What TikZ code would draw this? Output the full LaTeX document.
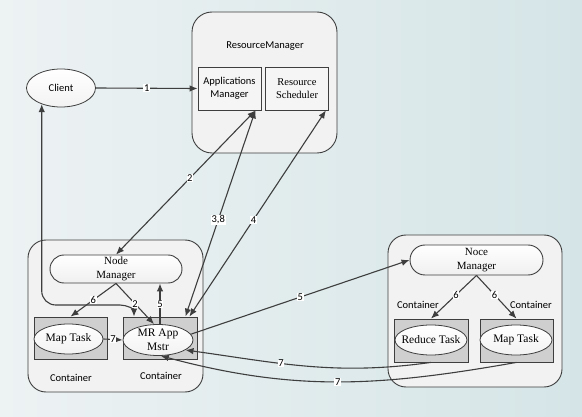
\documentclass[tikz,border=0pt]{standalone}
\usepackage{fontspec}
\setmainfont{Liberation Serif}
\newfontfamily\sansfnt{Carlito}
\usepackage{tikz}
\usetikzlibrary{arrows.meta,shapes.geometric,calc}
\definecolor{lnclr}{RGB}{62,62,62}
\definecolor{bgleft}{RGB}{237,242,243}
\definecolor{bgright}{RGB}{213,229,231}
\definecolor{boxgray}{RGB}{207,207,207}

\begin{document}
\begin{tikzpicture}[x=1pt,y=1pt,
  every node/.style={font=\fontsize{10.5}{13.5}\selectfont,align=center},
  rbox/.style={draw=lnclr,line width=0.9pt,rounded corners=20pt,fill=white!95!black},
  nmbox/.style={draw=lnclr,line width=0.9pt,rounded corners=14pt,top color=white,bottom color=gray!12},
  rmpart/.style={draw=lnclr,line width=0.8pt,fill=white!96!black,minimum width=63pt,minimum height=43pt,inner sep=0pt},
  gbox/.style={draw=lnclr,line width=0.8pt,fill=boxgray,minimum width=73pt,minimum height=42pt,inner sep=0pt},
  task/.style={ellipse,draw=lnclr,line width=0.8pt,top color=white,bottom color=gray!10,minimum width=70pt,minimum height=31pt,inner xsep=-6pt,inner ysep=-3pt,font=\fontsize{11.5}{14.5}\selectfont},
  sans/.style={font=\sansfnt\fontsize{10.5}{13.5}\selectfont},
  arr/.style={draw=lnclr,line width=1.1pt,-{Latex[length=8pt,width=6.5pt]}},
  dbl/.style={draw=lnclr,line width=1.1pt,{Latex[length=8pt,width=6.5pt]}-{Latex[length=8pt,width=6.5pt]}},
  lbl/.style={fill=white,inner sep=0.6pt,font=\sansfnt\fontsize{10.5}{10.5}\selectfont}]
\useasboundingbox (0,0) rectangle (582,-417);
\shade[left color=bgleft,right color=bgright] (0,0) rectangle (582,-417);

% ResourceManager
\node[rbox,minimum width=145pt,minimum height=141pt] (rm) at (264.5,-82.5) {};
\node[sans] (rmtitle) at (265,-46) {ResourceManager};
\node[rmpart,sans] (am) at (229.5,-88.5) {Applications\\Manager};
\node[rmpart] (rs) at (297,-88.5) {Resource\\Scheduler};

\node[ellipse,draw=lnclr,line width=0.8pt,top color=white,bottom color=gray!10,minimum width=69pt,minimum height=38pt,sans] (client) at (61,-88) {Client};

% left node
\node[rbox,minimum width=175pt,minimum height=152pt,rounded corners=18pt] (nodel) at (115.5,-316) {};
\node[nmbox,minimum width=132pt,minimum height=28pt,inner sep=0pt,font=\fontsize{11}{13.5}\selectfont] (nml) at (116,-269) {Node\\Manager};
\node[gbox] (mtlbox) at (70.5,-338) {};
\node[task,minimum width=69pt,minimum height=30pt] (mtl) at (68.5,-339) {Map Task};
\node[gbox,minimum width=74pt] (mrbox) at (160,-338) {};
\node[task] (mr) at (158,-340) {MR App\\Mstr};
\node[sans] (cl1) at (71,-378) {Container};
\node[sans] (cl2) at (161,-376) {Container};

% right node
\node[rbox,minimum width=174pt,minimum height=152pt,rounded corners=18pt] (noder) at (475,-311) {};
\node[nmbox,minimum width=133pt,minimum height=30pt,inner sep=0pt,rounded corners=15pt,font=\fontsize{11}{14}\selectfont] (nmr) at (476.5,-260) {Noce\\Manager};
\node[gbox,minimum width=74pt,minimum height=43pt] (rtbox) at (431,-340.5) {};
\node[task,minimum width=72pt,minimum height=30pt] (rt) at (431,-340) {Reduce Task};
\node[gbox,minimum height=43pt] (mtrbox) at (516.5,-340.5) {};
\node[task,minimum width=72pt,minimum height=30pt] (mtr) at (516,-340) {Map Task};
\node[sans] (cr1) at (418,-305) {Container};
\node[sans] (cr2) at (531,-305) {Container};

% connectors
\draw[arr] (client.east) -- node[lbl]{1} (am.west);
\draw[dbl] ([xshift=-6pt]am.south east) -- node[lbl,pos=0.47]{2} (nml.north);
\draw[dbl] ([xshift=-6pt]am.south east) -- node[lbl,pos=0.53]{3,8} ([xshift=-12pt]mrbox.north east);
\draw[dbl] ([xshift=-3pt]rs.south east) -- node[lbl,pos=0.53]{4} ([xshift=-8pt]mrbox.north east);
\draw[dbl] (client.220) -- (client.220 |- 0,-291) to[out=-90,in=180] ++(14,-14) -- (120,-305) to[out=0,in=90] ([xshift=-26pt]mrbox.north);
\draw[arr] (nml.south) -- node[lbl]{6} (mtlbox.north);
\draw[arr] (nml.south) -- node[lbl]{2} ([xshift=-4pt]mr.north);
\coordinate (p5) at ([xshift=2pt]mr.north);
\draw[arr] (p5) -- node[lbl]{5} (p5 |- nml.south);
\draw[arr] (mtl.east) -- node[lbl]{7} (mr.west);
\draw[arr] (mr.10) -- node[lbl]{5} (nmr.west);
\draw[arr] (nmr.south) -- node[lbl,pos=0.45]{6} (rtbox.north);
\draw[arr] (nmr.south) -- node[lbl,pos=0.45]{6} (mtrbox.north);
\draw[arr] (rtbox.south) to[out=188,in=-8] node[lbl,pos=0.62]{7} (mr.-20);
\draw[arr] (mtrbox.south) to[out=190,in=-15] node[lbl]{7} (mr.-80);
\end{tikzpicture}
\end{document}
